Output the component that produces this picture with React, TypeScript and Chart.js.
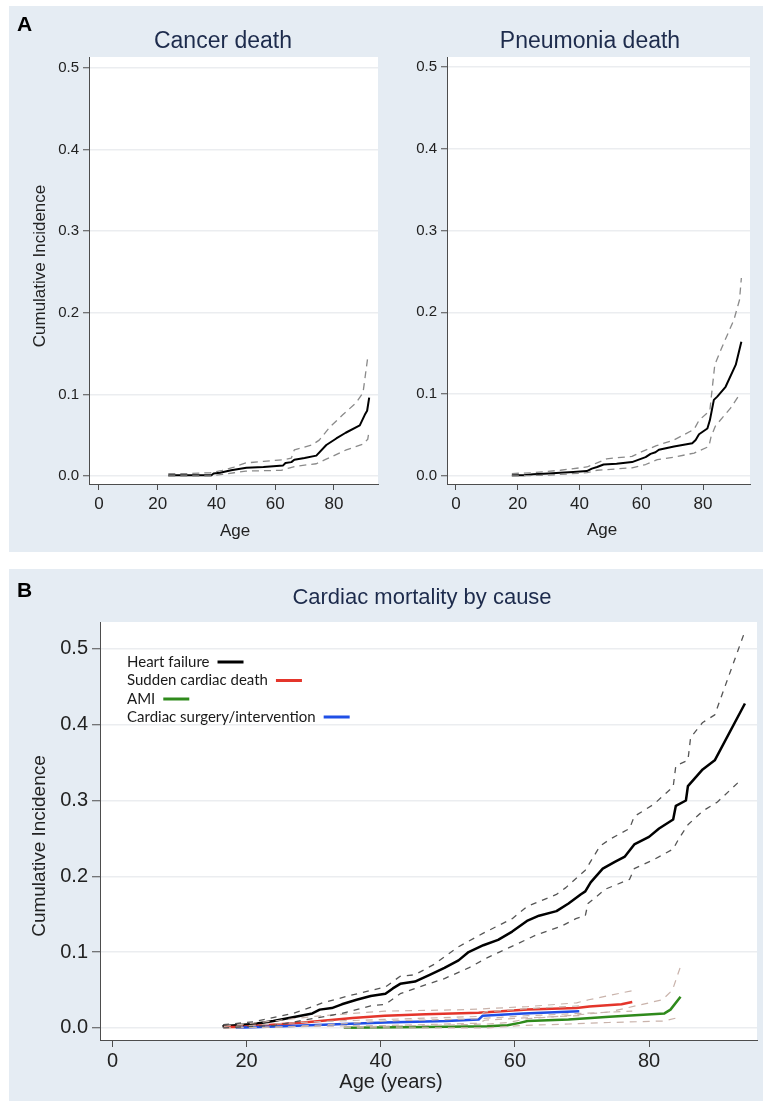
import React, { useEffect, useRef } from "react";
import { Chart, registerables } from "chart.js";

Chart.register(...registerables);

// ---------- tick values ----------
const xTicks = [0, 20, 40, 60, 80];
const yTicks = [0, 0.1, 0.2, 0.3, 0.4, 0.5];

// ---------- Panel A: Cancer death ----------
const cancerEst: [number, number][] = [
  [23.6, 0.001], [30, 0.001], [38.3, 0.001], [39, 0.003], [41.2, 0.004], [45, 0.007],
  [50.2, 0.01], [56, 0.011], [62.7, 0.013], [63.5, 0.016], [65.5, 0.017], [66.5, 0.02],
  [70, 0.022], [74, 0.025], [77.4, 0.038], [80.8, 0.046], [84, 0.053], [88.8, 0.062],
  [90.5, 0.075], [91.3, 0.08], [92, 0.096],
];
const cancerHi: [number, number][] = [
  [23.6, 0.003], [30, 0.003], [38, 0.004], [42, 0.007], [46, 0.011], [50, 0.016],
  [56, 0.018], [63, 0.02], [65.5, 0.022], [66.5, 0.032], [72.5, 0.038], [75, 0.044],
  [78.6, 0.06], [83, 0.075], [87.6, 0.09], [89.9, 0.102], [91.6, 0.148],
];
const cancerLo: [number, number][] = [
  [23.6, 0.0], [38, 0.0], [42, 0.002], [46, 0.004], [50, 0.006], [62, 0.007],
  [65, 0.01], [67, 0.012], [74, 0.015], [77, 0.02], [84.2, 0.032], [89.9, 0.039],
  [91.5, 0.045], [92, 0.056],
];

// ---------- Panel A: Pneumonia death ----------
const pneuEst: [number, number][] = [
  [18.1, 0.001], [22, 0.001], [25, 0.002], [30, 0.003], [33.8, 0.004], [38, 0.005],
  [42.4, 0.006], [44, 0.009], [45.7, 0.011], [47.8, 0.014], [52, 0.015], [57, 0.017],
  [61.4, 0.023], [63, 0.027], [64.6, 0.029], [65.7, 0.032], [70.6, 0.036], [76.5, 0.04],
  [77.6, 0.044], [78.7, 0.051], [81.4, 0.058], [82.2, 0.068], [83.5, 0.093], [84.6, 0.097],
  [87.3, 0.109], [90.6, 0.136], [92.4, 0.164],
];
const pneuHi: [number, number][] = [
  [18.1, 0.003], [25, 0.004], [33.8, 0.007], [42.4, 0.011], [45.7, 0.016], [48.8, 0.021],
  [57, 0.024], [60.4, 0.03], [64.9, 0.037], [70.6, 0.044], [77.1, 0.057], [78.7, 0.068],
  [82.2, 0.08], [83.8, 0.136], [86.2, 0.158], [90, 0.191], [91.8, 0.215], [92.4, 0.242],
];
const pneuLo: [number, number][] = [
  [18.1, 0.0], [30, 0.001], [42.4, 0.004], [45.7, 0.007], [57, 0.01], [61.4, 0.014],
  [65.2, 0.02], [70.6, 0.023], [77.1, 0.028], [81.9, 0.036], [82.6, 0.048], [84, 0.061],
  [88.9, 0.083], [92.1, 0.101],
];

// ---------- Panel B: Cardiac mortality by cause ----------
const hfEst: [number, number][] = [
  [16.4, 0.002], [21.1, 0.005], [24, 0.009], [26.9, 0.014], [29.8, 0.019], [30.9, 0.024],
  [32.7, 0.026], [34.2, 0.031], [36.4, 0.037], [38.5, 0.042], [40.7, 0.045], [41.8, 0.052],
  [42.9, 0.058], [45.1, 0.061], [47.3, 0.07], [49.5, 0.079], [51.6, 0.089], [53.1, 0.1],
  [55.3, 0.109], [57.5, 0.116], [59.6, 0.127], [61.8, 0.141], [63.6, 0.148], [66.2, 0.154],
  [68, 0.164], [69.8, 0.176], [70.5, 0.18], [71.3, 0.192], [73.1, 0.21], [74.9, 0.219],
  [76.4, 0.226], [77.8, 0.242], [80, 0.252], [81.5, 0.263], [83.6, 0.275], [84, 0.293],
  [85.5, 0.3], [85.8, 0.319], [88, 0.341], [89.8, 0.353], [94.3, 0.428],
];
const hfHi: [number, number][] = [
  [16.5, 0.004], [21.1, 0.008], [26.9, 0.019], [30.2, 0.029], [31.3, 0.033], [35.6, 0.043],
  [40.7, 0.054], [42.9, 0.068], [45.1, 0.07], [48, 0.084], [51.6, 0.107], [55.3, 0.125],
  [59.6, 0.144], [61.8, 0.16], [66.2, 0.176], [67.6, 0.185], [70.5, 0.208], [72.7, 0.24],
  [74.2, 0.249], [77.1, 0.263], [77.8, 0.279], [80.7, 0.295], [83.6, 0.318], [84, 0.346],
  [85.8, 0.353], [86.2, 0.383], [88, 0.403], [89.8, 0.413], [94.2, 0.521],
];
const hfLo: [number, number][] = [
  [16.5, 0.0], [24, 0.003], [29.8, 0.012], [34.2, 0.019], [38.5, 0.029], [40.7, 0.031],
  [42.9, 0.045], [45.1, 0.052], [49.5, 0.065], [53.1, 0.079], [56, 0.093], [60.4, 0.111],
  [63.3, 0.123], [66.9, 0.134], [69.1, 0.144], [70.5, 0.148], [70.9, 0.164], [73.5, 0.183],
  [77.1, 0.196], [77.8, 0.21], [80.7, 0.222], [83.6, 0.236], [84.4, 0.249], [85.8, 0.268],
  [88, 0.286], [90.2, 0.298], [93.8, 0.328],
];
const scdEst: [number, number][] = [
  [16.6, 0.001], [19, 0.001], [22.4, 0.003], [28.5, 0.007], [35.8, 0.013], [40.6, 0.016],
  [46.7, 0.018], [54.6, 0.02], [61.9, 0.024], [69.2, 0.026], [71.1, 0.028], [75.9, 0.031],
  [77.5, 0.034],
];
const scdHi: [number, number][] = [
  [16.6, 0.002], [25, 0.01], [30, 0.015], [35.8, 0.019], [40.6, 0.022], [52.8, 0.024],
  [61.9, 0.028], [69.2, 0.033], [71, 0.037], [77.5, 0.049],
];
const scdLo: [number, number][] = [
  [16.6, 0.0], [25, 0.001], [35.8, 0.006], [40.6, 0.009], [54.6, 0.012], [61.9, 0.016],
  [70, 0.019], [77.5, 0.022],
];
const surgEst: [number, number][] = [
  [18.4, 0.0], [25.4, 0.002], [34.5, 0.005], [40.6, 0.007], [49.8, 0.009], [54.6, 0.011],
  [55.2, 0.016], [61.3, 0.019], [69.6, 0.022],
];
const surgHi: [number, number][] = [
  [18.4, 0.002], [30, 0.008], [40.6, 0.011], [54.6, 0.015], [55.5, 0.021], [61.3, 0.025],
  [69.6, 0.029],
];
const surgLo: [number, number][] = [
  [18.4, 0.0], [30, 0.002], [40.6, 0.003], [54.6, 0.006], [55.5, 0.01], [61.3, 0.013],
  [69.6, 0.016],
];
const amiEst: [number, number][] = [
  [34.5, 0.0], [46.7, 0.001], [55.9, 0.002], [58.9, 0.0035], [60.7, 0.0065], [61.9, 0.009],
  [68, 0.011], [74.1, 0.0145], [82.3, 0.019], [83.2, 0.024], [84.7, 0.041],
];
const amiHi: [number, number][] = [
  [34.5, 0.001], [46.7, 0.003], [55.9, 0.005], [59, 0.007], [61.9, 0.012], [68, 0.016],
  [74.1, 0.021], [82, 0.037], [83.5, 0.05], [84.7, 0.081],
];
const amiLo: [number, number][] = [
  [34.5, 0.0], [56, 0.0], [61, 0.003], [68, 0.005], [74, 0.007], [82.3, 0.009], [84.1, 0.013],
];

const legendLabels = ["Heart failure", "Sudden cardiac death", "AMI", "Cardiac surgery/intervention"];

// ---------- styles ----------
const FONT = "'Liberation Sans', Arial, Helvetica, sans-serif";
const LEGEND_FONT = "Lato, 'Liberation Sans', sans-serif";
const PANEL_BG = "#e5ecf3";
const AXIS = "#4d4d4d";
const GRID = "#ebedf0";
const TICK_TXT = "#222222";
const TITLE_TXT = "#1d2b4c";
const C_BLACK = "#000000";
const C_RED = "#e4352b";
const C_GREEN = "#2f8a1c";
const C_BLUE = "#1f4fe6";
const CI_A = "#8a8a8a";
const CI_HF = "#555555";
const CI_LIGHT = "#c9b3ab";

type Pt = [number, number];

function ds(data: Pt[], color: string, width: number, dash: number[] = []) {
  return {
    data: data.map(([x, y]) => ({ x, y })),
    borderColor: color,
    backgroundColor: color,
    borderWidth: width,
    borderDash: dash,
    pointRadius: 0,
    tension: 0,
    fill: false,
    borderJoinStyle: "round" as const,
  };
}

type TextItem = {
  text: string;
  x: number;
  y: number;
  size: number;
  color: string;
  bold?: boolean;
  rotate?: boolean;
  align?: CanvasTextAlign;
  family?: string;
};

type LegendItem = { text: string; color: string; x: number; y: number };

type Spec = {
  width: number;
  height: number;
  padTop: number;
  padRight: number;
  padBottom: number;
  yWidth: number;
  xHeight: number;
  xMin: number;
  xMax: number;
  yMin: number;
  yMax: number;
  yTickSize: number;
  xTickSize: number;
  yTickLen: number;
  xTickLen: number;
  yTickPad: number;
  xTickPad: number;
  datasets: any[];
  texts: TextItem[];
  legend?: LegendItem[];
};

function buildConfig(s: Spec): any {
  const overlay = {
    id: "overlay",
    beforeDraw(chart: any) {
      const { ctx, chartArea } = chart;
      ctx.save();
      ctx.fillStyle = "#ffffff";
      ctx.fillRect(chartArea.left, chartArea.top, chartArea.right - chartArea.left, chartArea.bottom - chartArea.top);
      ctx.restore();
    },
    afterDraw(chart: any) {
      const { ctx } = chart;
      ctx.save();
      for (const t of s.texts) {
        ctx.font = `${t.bold ? "bold " : ""}${t.size}px ${t.family || FONT}`;
        ctx.fillStyle = t.color;
        ctx.textAlign = t.align || "center";
        ctx.textBaseline = "middle";
        if (t.rotate) {
          ctx.save();
          ctx.translate(t.x, t.y);
          ctx.rotate(-Math.PI / 2);
          ctx.fillText(t.text, 0, 0);
          ctx.restore();
        } else {
          ctx.fillText(t.text, t.x, t.y);
        }
      }
      if (s.legend) {
        for (const l of s.legend) {
          ctx.font = `15px ${LEGEND_FONT}`;
          ctx.fillStyle = "#1a1a1a";
          ctx.textAlign = "left";
          ctx.textBaseline = "middle";
          ctx.fillText(l.text, l.x, l.y);
          const w = ctx.measureText(l.text).width;
          ctx.strokeStyle = l.color;
          ctx.lineWidth = 3;
          ctx.setLineDash([]);
          ctx.beginPath();
          ctx.moveTo(l.x + w + 8, l.y);
          ctx.lineTo(l.x + w + 34, l.y);
          ctx.stroke();
        }
      }
      ctx.restore();
    },
  };

  return {
    type: "line",
    data: { datasets: s.datasets },
    plugins: [overlay],
    options: {
      responsive: false,
      animation: false,
      events: [],
      devicePixelRatio: 1,
      layout: { padding: { left: 0, top: s.padTop, right: s.padRight, bottom: s.padBottom } },
      plugins: { legend: { display: false }, tooltip: { enabled: false }, title: { display: false } },
      scales: {
        x: {
          type: "linear",
          min: s.xMin,
          max: s.xMax,
          afterBuildTicks: (sc: any) => {
            sc.ticks = xTicks.map((v) => ({ value: v }));
          },
          afterFit: (sc: any) => {
            sc.height = s.xHeight;
          },
          grid: {
            display: true,
            drawOnChartArea: false,
            drawTicks: true,
            tickLength: s.xTickLen,
            tickColor: AXIS,
            tickWidth: 1,
          },
          border: { display: true, color: AXIS, width: 1 },
          ticks: {
            autoSkip: false,
            maxRotation: 0,
            padding: s.xTickPad,
            color: TICK_TXT,
            font: { family: FONT, size: s.xTickSize },
            callback: (v: any) => String(v),
          },
        },
        y: {
          type: "linear",
          min: s.yMin,
          max: s.yMax,
          afterBuildTicks: (sc: any) => {
            sc.ticks = yTicks.map((v) => ({ value: v }));
          },
          afterFit: (sc: any) => {
            sc.width = s.yWidth;
          },
          grid: {
            display: true,
            drawOnChartArea: true,
            color: GRID,
            lineWidth: 1.5,
            drawTicks: true,
            tickLength: s.yTickLen,
            tickColor: AXIS,
            tickWidth: 1,
          },
          border: { display: true, color: AXIS, width: 1 },
          ticks: {
            autoSkip: false,
            padding: s.yTickPad,
            color: TICK_TXT,
            font: { family: FONT, size: s.yTickSize },
            callback: (v: any) => Number(v).toFixed(1),
          },
        },
      },
    },
  };
}

function ChartCanvas({ left, top, spec }: { left: number; top: number; spec: Spec }) {
  const ref = useRef<HTMLCanvasElement | null>(null);
  useEffect(() => {
    if (!ref.current) return;
    const chart = new Chart(ref.current, buildConfig(spec));
    return () => chart.destroy();
  }, []);
  return (
    <canvas
      ref={ref}
      width={spec.width}
      height={spec.height}
      style={{ position: "absolute", left, top, width: spec.width, height: spec.height }}
    />
  );
}

// ---------- specs ----------
const cancerSpec: Spec = {
  width: 380,
  height: 546,
  padTop: 51,
  padRight: 11,
  padBottom: 38,
  yWidth: 80,
  xHeight: 30,
  xMin: -3.4,
  xMax: 95,
  yMin: -0.0098,
  yMax: 0.5135,
  yTickSize: 15,
  xTickSize: 17,
  yTickLen: 6,
  xTickLen: 6,
  yTickPad: 4,
  xTickPad: 4,
  datasets: [
    ds(cancerHi, CI_A, 1.3, [7, 5]),
    ds(cancerLo, CI_A, 1.3, [7, 5]),
    ds(cancerEst, C_BLACK, 2),
  ],
  texts: [
    { text: "A", x: 8, y: 19, size: 21, color: "#000", bold: true, align: "left" },
    { text: "Cancer death", x: 214, y: 36, size: 23, color: TITLE_TXT },
    { text: "Cumulative Incidence", x: 31, y: 260, size: 17, color: TICK_TXT, rotate: true },
    { text: "Age", x: 226, y: 525, size: 17, color: TICK_TXT },
  ],
};

const pneuSpec: Spec = {
  width: 374,
  height: 546,
  padTop: 51,
  padRight: 13,
  padBottom: 38,
  yWidth: 58,
  xHeight: 30,
  xMin: -2.9,
  xMax: 95.2,
  yMin: -0.0098,
  yMax: 0.512,
  yTickSize: 15,
  xTickSize: 17,
  yTickLen: 6,
  xTickLen: 6,
  yTickPad: 4,
  xTickPad: 4,
  datasets: [
    ds(pneuHi, CI_A, 1.3, [7, 5]),
    ds(pneuLo, CI_A, 1.3, [7, 5]),
    ds(pneuEst, C_BLACK, 2),
  ],
  texts: [
    { text: "Pneumonia death", x: 201, y: 36, size: 23, color: TITLE_TXT },
    { text: "Age", x: 213, y: 524, size: 17, color: TICK_TXT },
  ],
};

const cardiacSpec: Spec = {
  width: 754,
  height: 532,
  padTop: 53,
  padRight: 6,
  padBottom: 26,
  yWidth: 91,
  xHeight: 35,
  xMin: -1.86,
  xMax: 96.1,
  yMin: -0.0161,
  yMax: 0.5356,
  yTickSize: 20,
  xTickSize: 20,
  yTickLen: 8,
  xTickLen: 7,
  yTickPad: 4,
  xTickPad: 2,
  datasets: [
    ds(hfHi, CI_HF, 1.3, [6, 6]),
    ds(hfLo, CI_HF, 1.3, [6, 6]),
    ds(scdHi, CI_LIGHT, 1.2, [7, 6]),
    ds(scdLo, CI_LIGHT, 1.2, [7, 6]),
    ds(surgHi, CI_LIGHT, 1.2, [7, 6]),
    ds(surgLo, CI_LIGHT, 1.2, [7, 6]),
    ds(amiHi, CI_LIGHT, 1.2, [7, 6]),
    ds(amiLo, CI_LIGHT, 1.2, [7, 6]),
    ds(amiEst, C_GREEN, 2.5),
    ds(surgEst, C_BLUE, 2.5),
    ds(scdEst, C_RED, 2.5),
    ds(hfEst, C_BLACK, 2.5),
  ],
  texts: [
    { text: "B", x: 8, y: 22, size: 21, color: "#000", bold: true, align: "left" },
    { text: "Cardiac mortality by cause", x: 413, y: 29, size: 22, color: TITLE_TXT },
    { text: "Cumulative Incidence", x: 31, y: 277, size: 19, color: TICK_TXT, rotate: true },
    { text: "Age (years)", x: 382, y: 513, size: 20, color: TICK_TXT },
  ],
  legend: [
    { text: legendLabels[0], color: C_BLACK, x: 118, y: 93 },
    { text: legendLabels[1], color: C_RED, x: 118, y: 111.5 },
    { text: legendLabels[2], color: C_GREEN, x: 118, y: 130 },
    { text: legendLabels[3], color: C_BLUE, x: 118, y: 148 },
  ],
};

export default function App() {
  useEffect(() => {
    document.body.style.margin = "0";
    document.body.style.background = "#ffffff";
  }, []);
  return (
    <div style={{ position: "absolute", left: 0, top: 0, width: 765, height: 1107, background: "#ffffff", overflow: "hidden" }}>
      <div style={{ position: "absolute", left: 9, top: 6, width: 754, height: 546, background: PANEL_BG }} />
      <div style={{ position: "absolute", left: 9, top: 569, width: 754, height: 532, background: PANEL_BG }} />
      <ChartCanvas left={9} top={6} spec={cancerSpec} />
      <ChartCanvas left={389} top={6} spec={pneuSpec} />
      <ChartCanvas left={9} top={569} spec={cardiacSpec} />
    </div>
  );
}
